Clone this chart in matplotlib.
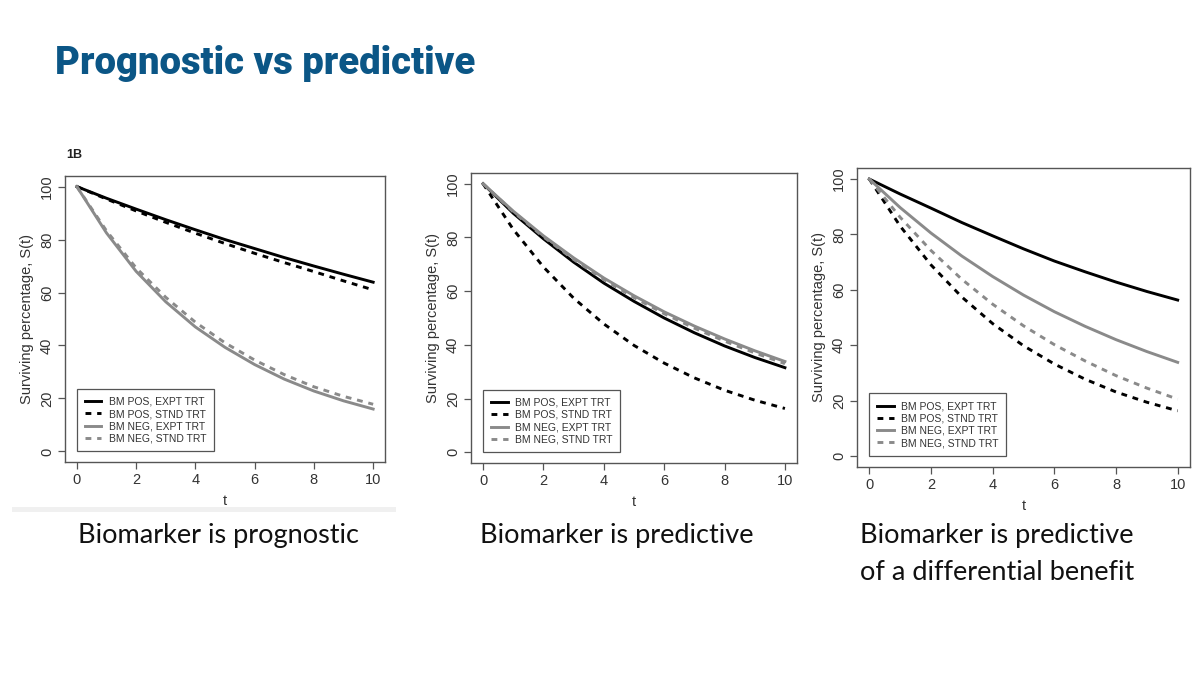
"""Slide: prognostic vs predictive biomarkers, three survival panels."""

import matplotlib
matplotlib.use("Agg")
import matplotlib.pyplot as plt
from matplotlib.patches import Rectangle

# ---------------------------------------------------------------------------
# Data
# ---------------------------------------------------------------------------
T = [0, 1, 2, 3, 4, 5, 6, 7, 8, 9, 10]

LABELS = ["BM POS, EXPT TRT", "BM POS, STND TRT",
          "BM NEG, EXPT TRT", "BM NEG, STND TRT"]

# panel 1: prognostic
P1_POS_EXPT = [100, 95.6, 91.5, 87.5, 83.7, 80.0, 76.6, 73.2, 70.0, 66.9, 63.9]
P1_POS_STND = [100, 95.3, 90.8, 86.5, 82.4, 78.5, 74.8, 71.3, 67.9, 64.4, 61.0]
P1_NEG_EXPT = [100, 82.5, 68.0, 56.5, 47.0, 39.3, 32.8, 27.3, 22.8, 19.1, 16.0]
P1_NEG_STND = [100, 83.3, 69.3, 58.2, 48.8, 41.0, 34.5, 29.0, 24.4, 20.8, 17.8]

# panel 2: predictive
P2_POS_EXPT = [100, 89.0, 79.5, 70.8, 63.0, 56.2, 50.0, 44.5, 39.6, 35.3, 31.5]
P2_POS_STND = [100, 83.0, 69.0, 57.4, 47.8, 39.8, 33.2, 27.7, 23.1, 19.4, 16.3]
P2_NEG_EXPT = [100, 89.8, 80.6, 72.4, 64.9, 58.3, 52.3, 47.0, 42.2, 37.8, 33.8]
P2_NEG_STND = [100, 89.5, 80.2, 71.8, 64.3, 57.6, 51.6, 46.2, 41.4, 37.0, 33.0]

# panel 3: predictive of a differential benefit
P3_POS_EXPT = [100, 94.6, 89.5, 84.3, 79.5, 74.8, 70.4, 66.5, 62.8, 59.4, 56.3]
P3_POS_STND = [100, 83.0, 69.0, 57.4, 47.8, 39.8, 33.2, 27.7, 23.1, 19.4, 16.3]
P3_NEG_EXPT = [100, 89.7, 80.5, 72.2, 64.8, 58.1, 52.1, 46.8, 42.0, 37.7, 33.8]
P3_NEG_STND = [100, 86.2, 74.2, 63.8, 54.8, 47.0, 40.2, 34.3, 29.0, 24.5, 20.5]

PANELS = [
    (P1_POS_EXPT, P1_POS_STND, P1_NEG_EXPT, P1_NEG_STND),
    (P2_POS_EXPT, P2_POS_STND, P2_NEG_EXPT, P2_NEG_STND),
    (P3_POS_EXPT, P3_POS_STND, P3_NEG_EXPT, P3_NEG_STND),
]

TITLE = "Prognostic vs predictive"
CAPTIONS = [["Biomarker is prognostic"],
            ["Biomarker is predictive"],
            ["Biomarker is predictive", "of a differential benefit"]]

# ---------------------------------------------------------------------------
# Style
# ---------------------------------------------------------------------------
W, H = 1200, 675
BLUE = "#0b5686"
GREY = "#8a8a8a"
AXC = "#555555"
RFONT = ["Liberation Sans", "DejaVu Sans"]

# (left, top, right, bottom) of each plot box, in pixels
BOXES = [(65, 176, 385, 462), (471, 173, 797, 463), (857, 168, 1190, 467)]
CAPTION_X = [78, 480, 860]
CAPTION_Y = [536, 573]

STYLES = [dict(color="black", ls="-"),
          dict(color="black", ls=(0, (2, 2))),
          dict(color=GREY, ls="-"),
          dict(color=GREY, ls=(0, (2, 2)))]


def _px_axes(fig, box):
    l, t, r, b = box
    return fig.add_axes([l / W, 1 - b / H, (r - l) / W, (b - t) / H])


def _draw_panel(ax, series):
    for ys, st, lab in zip(series, STYLES, LABELS):
        ax.plot(T, ys, lw=2.1, label=lab, solid_joinstyle="round", **st)
    ax.set_xlim(-0.4, 10.4)
    ax.set_ylim(-4, 104)
    ax.set_xticks([0, 2, 4, 6, 8, 10])
    ax.set_yticks([0, 20, 40, 60, 80, 100])
    for s in ax.spines.values():
        s.set_color(AXC)
        s.set_linewidth(1.0)
    ax.tick_params(direction="out", length=5, width=0.9, color=AXC,
                   labelsize=10.5, labelcolor="#333333", pad=3)
    for lbl in ax.get_xticklabels() + ax.get_yticklabels():
        lbl.set_family(RFONT)
    for lbl in ax.get_yticklabels():
        lbl.set_rotation(90)
        lbl.set_va("center")
    ax.set_xlabel("t", family=RFONT, fontsize=10.5, color="#333333", labelpad=5)
    ax.set_ylabel("Surviving percentage, S(t)", family=RFONT, fontsize=10.5,
                  color="#333333", labelpad=4)
    leg = ax.legend(loc="lower left", bbox_to_anchor=(0, 0),
                    bbox_transform=ax.transData, borderaxespad=0,
                    prop={"family": RFONT, "size": 7.5}, fancybox=False,
                    framealpha=1, edgecolor=AXC, handlelength=1.6,
                    labelspacing=0.22, borderpad=0.75, handletextpad=0.7)
    leg.get_frame().set_linewidth(0.9)
    for txt in leg.get_texts():
        txt.set_color("#333333")


def main():
    fig = plt.figure(figsize=(W / 100, H / 100), dpi=100)
    fig.patch.set_facecolor("white")

    fig.text(55 / W, 1 - 74 / H, TITLE, ha="left", va="baseline",
             fontsize=27.5, fontweight="black", color=BLUE,
             family=["Roboto", "Liberation Sans"])

    # faint strip under the first (pasted) panel
    fig.patches.append(Rectangle((12 / W, 1 - 512 / H), 384 / W, 5 / H,
                                 transform=fig.transFigure,
                                 facecolor="#f0f0f0", edgecolor="none"))

    for box, series in zip(BOXES, PANELS):
        _draw_panel(_px_axes(fig, box), series)

    fig.text(66 / W, 1 - 155 / H, "1B", ha="left", va="center",
             fontsize=9, fontweight="bold", family=RFONT, color="#222222")

    for x, lines in zip(CAPTION_X, CAPTIONS):
        for y, line in zip(CAPTION_Y, lines):
            fig.text(x / W, 1 - y / H, line, ha="left", va="center",
                     fontsize=19.5, family=["Lato", "DejaVu Sans"],
                     color="#111111")

    fig.savefig("out.png", dpi=100, facecolor="white")
    plt.close(fig)


if __name__ == "__main__":
    main()
